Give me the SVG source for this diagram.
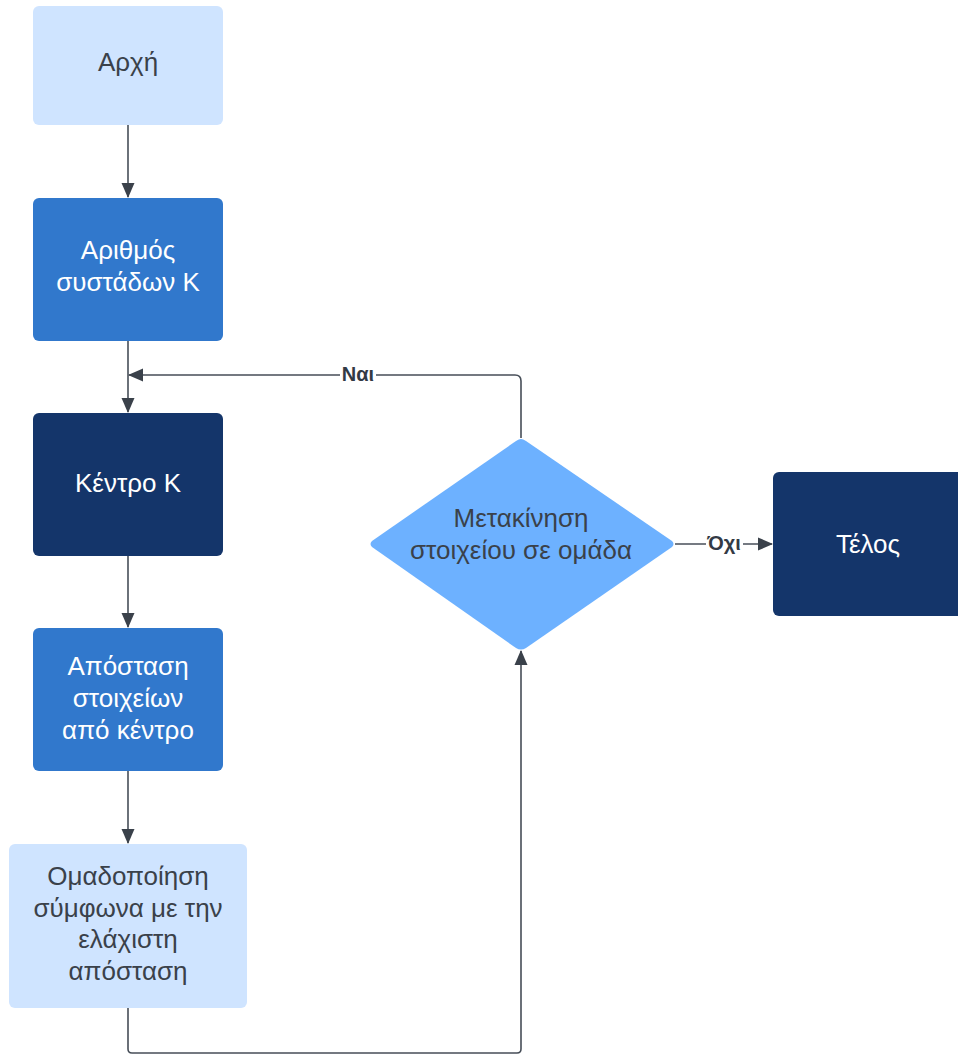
<svg xmlns="http://www.w3.org/2000/svg" width="958" height="1055" viewBox="0 0 958 1055">
<style>
.t{font-family:"Liberation Sans",Arial,sans-serif;font-size:26px;text-anchor:middle}
.dk{fill:#3a414a}
.wh{fill:#ffffff}
.ln{fill:none;stroke:#474e58;stroke-width:1.6}
.lb{font-family:"Liberation Sans",Arial,sans-serif;font-size:20px;font-weight:bold;fill:#333a45;text-anchor:middle}
</style>
<defs>
<marker id="ar" viewBox="0 0 15 14" refX="14" refY="7" markerWidth="15" markerHeight="14" markerUnits="userSpaceOnUse" orient="auto">
<path d="M0,0.5 L15,7 L0,13.5 Z" fill="#3a414a"/>
</marker>
</defs>
<rect width="958" height="1055" fill="#ffffff"/>
<g id="connectors">
<path class="ln" d="M128,125 V197" marker-end="url(#ar)"/>
<path class="ln" d="M128,341 V412" marker-end="url(#ar)"/>
<path class="ln" d="M521,438 V381 Q521,375 515,375 H129" marker-end="url(#ar)"/>
<path class="ln" d="M128,556 V627" marker-end="url(#ar)"/>
<path class="ln" d="M128,771 V843" marker-end="url(#ar)"/>
<path class="ln" d="M675,544 H772" marker-end="url(#ar)"/>
<path class="ln" d="M128,1008 V1049 Q128,1053 132,1053 H517 Q521,1053 521,1049 V651" marker-end="url(#ar)"/>
<rect x="340" y="364" width="36" height="20" fill="#ffffff"/>
<text class="lb" x="358" y="381">Ναι</text>
<rect x="706" y="533" width="37" height="20" fill="#ffffff"/>
<text class="lb" x="724" y="550">Όχι</text>
</g>
<g id="start">
<rect x="33" y="6" width="190" height="119" rx="6" fill="#cfe4ff"/>
<text class="t dk" x="128" y="71">Αρχή</text>
</g>
<g id="clusters">
<rect x="33" y="198" width="190" height="143" rx="6" fill="#3178cc"/>
<text class="t wh" x="128" y="259">Αριθμός</text>
<text class="t wh" x="128" y="291">συστάδων Κ</text>
</g>
<g id="centers">
<rect x="33" y="413" width="190" height="143" rx="6" fill="#14356a"/>
<text class="t wh" x="128" y="492">Κέντρο Κ</text>
</g>
<g id="distance">
<rect x="33" y="628" width="190" height="143" rx="6" fill="#3178cc"/>
<text class="t wh" x="128" y="675">Απόσταση</text>
<text class="t wh" x="128" y="707">στοιχείων</text>
<text class="t wh" x="128" y="739">από κέντρο</text>
</g>
<g id="grouping">
<rect x="9" y="844" width="238" height="164" rx="6" fill="#cfe4ff"/>
<text class="t dk" x="128" y="885">Ομαδοποίηση</text>
<text class="t dk" x="128" y="917">σύμφωνα με την</text>
<text class="t dk" x="128" y="948">ελάχιστη</text>
<text class="t dk" x="128" y="980">απόσταση</text>
</g>
<g id="decision">
<path d="M521,439 Q523,439 526,441 L672,541 Q675,544 672,547 L526,648 Q521,651 516,648 L372,547 Q369,544 372,541 L516,441 Q519,439 521,439 Z" fill="#6db1ff"/>
<text class="t dk" x="521" y="527">Μετακίνηση</text>
<text class="t dk" x="521" y="559">στοιχείου σε ομάδα</text>
</g>
<g id="end">
<rect x="773" y="472" width="195" height="144" rx="6" fill="#14356a"/>
<text class="t wh" x="868" y="553">Τέλος</text>
</g>
</svg>
